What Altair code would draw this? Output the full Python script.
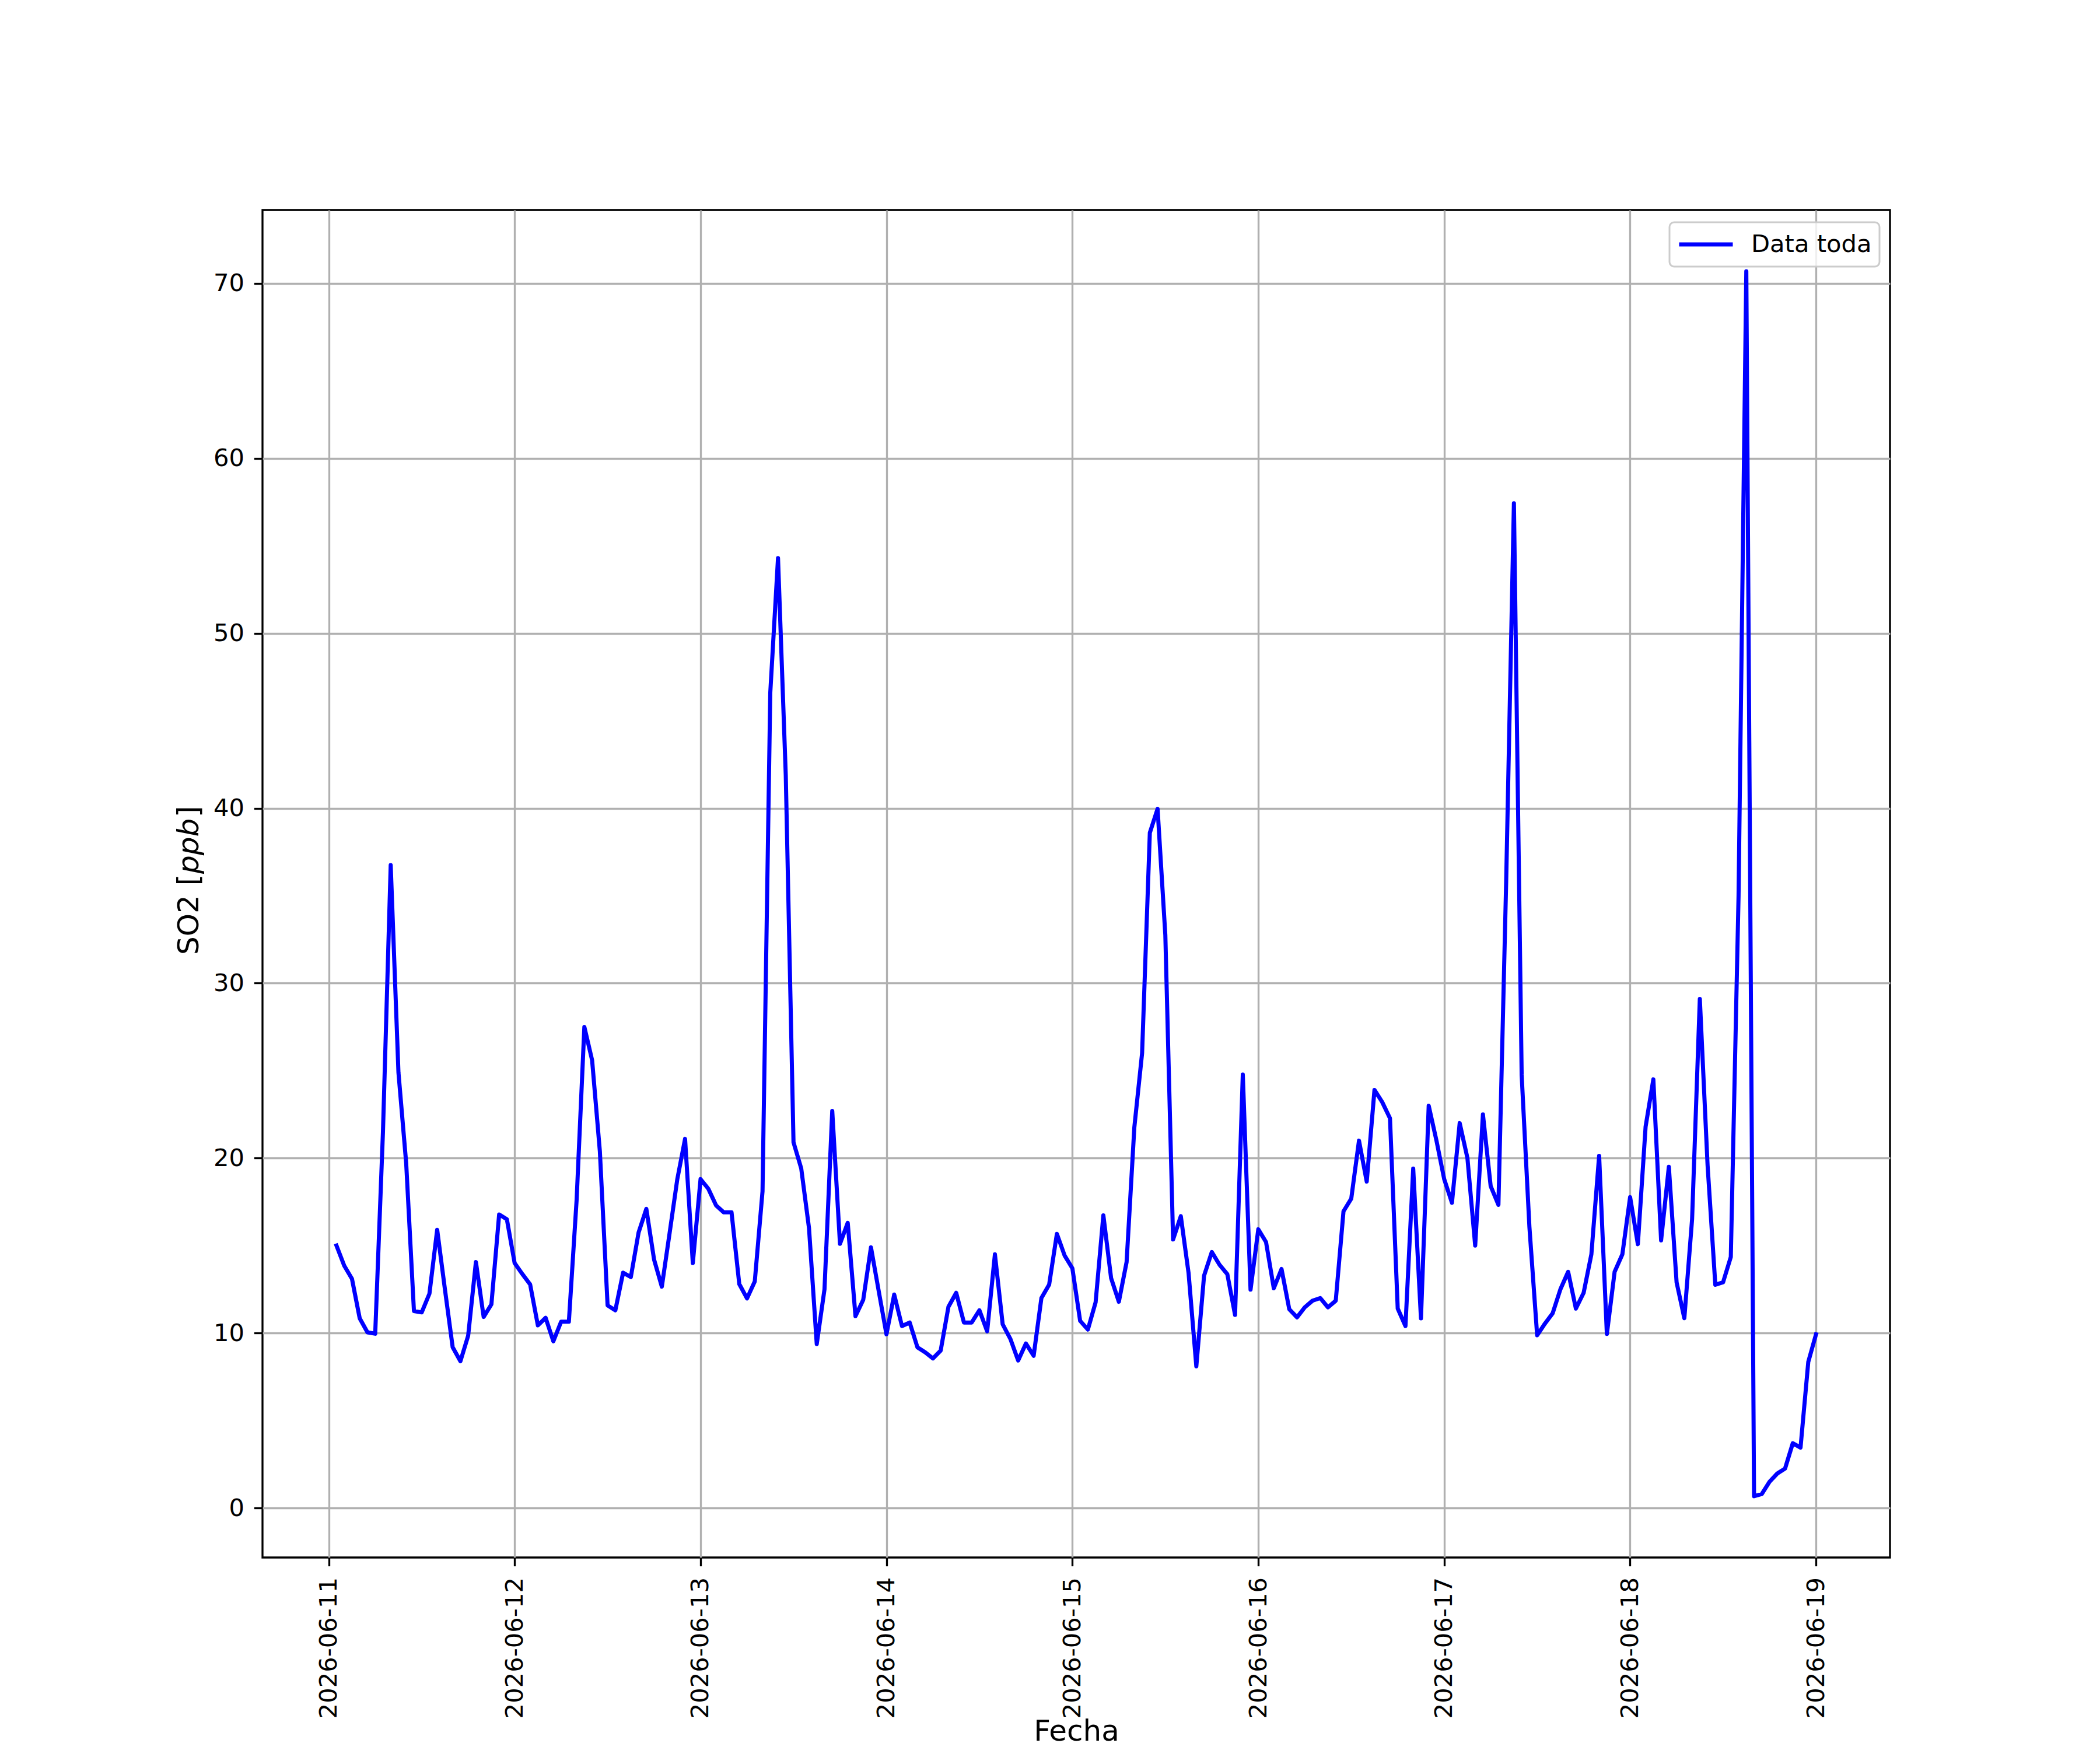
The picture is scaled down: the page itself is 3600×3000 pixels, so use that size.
import altair as alt
import pandas as pd

# hours since 2026-06-11 00:00 (hourly samples)
hours = list(range(1, 193))

so2 = [
    # 2026-06-11
    15.0, 13.85, 13.1, 10.84, 10.04, 9.96, 21.5, 36.75, 24.9, 19.7, 11.26, 11.18,
    12.25, 15.9, 12.5, 9.19, 8.39, 9.85, 14.06, 10.92, 11.64, 16.78, 16.5, 14.0,
    # 2026-06-12
    13.37, 12.78, 10.44, 10.87, 9.53, 10.65, 10.65, 17.6, 27.5, 25.6, 20.4, 11.58,
    11.3, 13.45, 13.2, 15.75, 17.1, 14.2, 12.65, 15.7, 18.8, 21.1, 14.0, 18.8,
    # 2026-06-13
    18.25, 17.3, 16.9, 16.9, 12.8, 11.98, 12.95, 18.1, 46.6, 54.3, 41.9, 20.9,
    19.4, 16.0, 9.37, 12.5, 22.7, 15.1, 16.3, 10.97, 11.9, 14.9, 12.4, 9.93,
    # 2026-06-14
    12.2, 10.4, 10.6, 9.18, 8.9, 8.55, 9.0, 11.5, 12.3, 10.6, 10.6, 11.3,
    10.1, 14.5, 10.5, 9.66, 8.43, 9.4, 8.7, 12.0, 12.77, 15.67, 14.43, 13.7,
    # 2026-06-15
    10.7, 10.2, 11.76, 16.73, 13.14, 11.79, 14.06, 21.77, 26.0, 38.6, 39.97, 32.75,
    15.35, 16.68, 13.43, 8.1, 13.28, 14.63, 13.9, 13.37, 11.04, 24.78, 12.48, 15.93,
    # 2026-06-16
    15.2, 12.56, 13.66, 11.36, 10.9, 11.47, 11.85, 12.0, 11.47, 11.85, 16.96, 17.68,
    21.0, 18.66, 23.9, 23.2, 22.28, 11.4, 10.4, 19.4, 10.84, 23.0, 21.0, 18.8,
    # 2026-06-17
    17.45, 22.0, 20.0, 15.0, 22.5, 18.4, 17.33, 35.8, 57.44, 24.75, 16.07, 9.87,
    10.54, 11.13, 12.5, 13.5, 11.4, 12.3, 14.5, 20.13, 9.95, 13.5, 14.5, 17.77,
    # 2026-06-18
    15.08, 21.8, 24.5, 15.3, 19.5, 12.9, 10.85, 16.5, 29.1, 19.6, 12.76, 12.9,
    14.35, 35.0, 70.7, 0.67, 0.8, 1.5, 1.97, 2.25, 3.7, 3.45, 8.35, 9.93,
]

tick_hours = [0, 24, 48, 72, 96, 120, 144, 168, 192]
tick_labels = ["2026-06-11", "2026-06-12", "2026-06-13", "2026-06-14", "2026-06-15",
               "2026-06-16", "2026-06-17", "2026-06-18", "2026-06-19"]
y_ticks = [0, 10, 20, 30, 40, 50, 60, 70]
series_name = "Data toda"
x_title = "Fecha"
y_title_parts = ["SO2 [", "ppb", "]"]

# matplotlib-like 5% margins
xr = max(hours) - min(hours)
x_dom = [min(hours) - 0.05 * xr, max(hours) + 0.05 * xr]
yr = max(so2) - min(so2)
y_dom = [min(so2) - 0.05 * yr, max(so2) + 0.05 * yr]

df = pd.DataFrame({"hour": hours, "so2": so2, "serie": series_name})

label_expr = "[" + ",".join("'" + t + "'" for t in tick_labels) + "][round(datum.value/24)]"

W, H = 2790, 2310
FONT = "DejaVu Sans"

line = alt.Chart(df).mark_line(
    strokeWidth=7, strokeJoin="round", strokeCap="square", clip=True
).encode(
    x=alt.X("hour:Q",
            scale=alt.Scale(domain=x_dom, nice=False, zero=False),
            axis=alt.Axis(values=tick_hours, labelExpr=label_expr, title=x_title,
                          labelAngle=270, labelAlign="right", labelBaseline="middle",
                          labelPadding=19, labelOverlap=False, labelFlush=False,
                          labelLimit=0,
                          titleY=313, titleBaseline="alphabetic")),
    y=alt.Y("so2:Q",
            scale=alt.Scale(domain=y_dom, nice=False, zero=False),
            axis=alt.Axis(values=y_ticks, title=None, labelPadding=17,
                          labelOverlap=False, labelFlush=False, labelLimit=0)),
    color=alt.Color("serie:N",
                    scale=alt.Scale(domain=[series_name], range=["#0000ff"]),
                    legend=alt.Legend(orient="none", legendX=2412, legendY=21, title=None,
                                      padding=13, strokeColor="#cccccc",
                                      fillColor="rgba(255,255,255,0.8)", cornerRadius=8,
                                      symbolType="stroke", symbolSize=8464,
                                      symbolStrokeWidth=7, labelFontSize=41.67,
                                      labelFont=FONT, labelColor="black", labelOffset=28,
                                      labelLimit=0, clipHeight=50)),
    order=alt.Order("hour:Q"),
)

one = pd.DataFrame({"k": [0]})


def ytxt(text, ypos, italic=False):
    return alt.Chart(one).mark_text(
        angle=270, align="left", baseline="alphabetic", font=FONT, fontSize=50,
        fontStyle="italic" if italic else "normal", color="black"
    ).encode(x=alt.value(-110), y=alt.value(ypos), text=alt.value(text))


t1 = ytxt(y_title_parts[0], 1277)
t2 = ytxt(y_title_parts[1], 1138, italic=True)
t3 = ytxt(y_title_parts[2], 1041)

chart = alt.layer(line, t1, t2, t3).properties(
    width=W, height=H,
    autosize=alt.AutoSizeParams(type="none"),
    padding={"left": 442, "top": 352, "right": 352, "bottom": 330},
    background="white",
).configure_view(
    stroke="black", strokeWidth=3.33
).configure_axis(
    domain=False, grid=True, gridColor="#b0b0b0", gridWidth=3.33,
    tickColor="black", tickWidth=3.33, tickSize=14.6,
    labelFont=FONT, labelFontSize=41.67, labelColor="black",
    titleFont=FONT, titleFontSize=50, titleColor="black", titleFontWeight="normal",
).configure_legend(
    strokeWidth=3
)

chart.save("out.html", embed_options={"renderer": "svg", "actions": False})
